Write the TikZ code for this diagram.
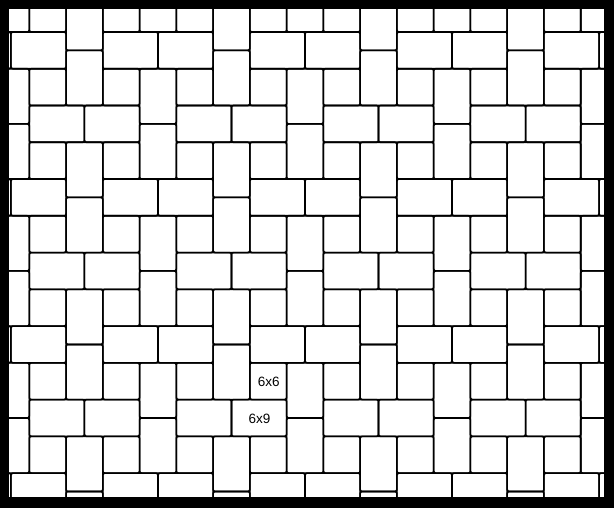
\documentclass[tikz,border=0pt]{standalone}
\usepackage{fontspec}
\setmainfont{Liberation Sans}
\begin{document}
\begin{tikzpicture}[x=1pt,y=-1pt,
  tile/.style={draw=black, line width=1.6pt, rounded corners=2pt},
  lbl/.style={inner sep=0pt, font=\fontsize{13.5}{16}\selectfont}]
\useasboundingbox (0,0) rectangle (614,508);
\fill[black] (0,0) rectangle (614,508);
\fill[white] (9,9) rectangle (604,497);
\newcommand\tl[4]{\draw[tile] ({29.3+18.38*(\dx+#1)},{32+18.38*(\dy+#2)}) rectangle ({29.3+18.38*(\dx+#3)},{32+18.38*(\dy+#4)});}
\begin{scope}
  \clip (9,9) rectangle (604,497);
  \foreach \b in {-1,...,7}{
    \foreach \a in {-4,...,4}{
      \pgfmathsetmacro{\dx}{8*\a+4*\b}
      \pgfmathsetmacro{\dy}{4*\b}
      \tl{0}{4}{3}{6}
      \tl{3}{4}{6}{6}
      \tl{2}{-2}{4}{1}
      \tl{2}{1}{4}{4}
      \tl{0}{2}{2}{4}
      \tl{4}{2}{6}{4}
    }
  }
\end{scope}
\node[lbl] (l66) at (268.8,381.7) {6x6};
\node[lbl] (l69) at (259.5,419.3) {6x9};
\end{tikzpicture}
\end{document}
